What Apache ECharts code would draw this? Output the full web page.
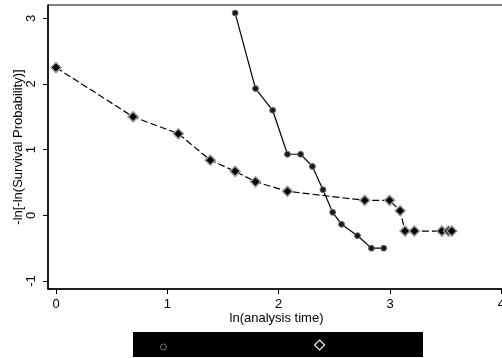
<!DOCTYPE html>
<html>
<head>
<meta charset="utf-8">
<script src="https://cdn.jsdelivr.net/npm/echarts@6/dist/echarts.min.js"></script>
<style>html,body{margin:0;padding:0;background:#fff}#c{width:502px;height:358px}</style>
</head>
<body>
<div id="c"></div>
<script>
// ln(analysis time) and -ln[-ln(S)] for group 1 (solid, circles)
var x1 = [1.609, 1.792, 1.946, 2.079, 2.197, 2.303, 2.398, 2.485, 2.565, 2.708, 2.833, 2.944];
var y1 = [3.08, 1.93, 1.60, 0.93, 0.93, 0.745, 0.39, 0.045, -0.137, -0.31, -0.50, -0.50];
// group 2 (dashed, diamonds)
var x2 = [0, 0.693, 1.099, 1.386, 1.609, 1.792, 2.079, 2.773, 2.996, 3.091, 3.135, 3.219, 3.466, 3.526, 3.555];
var y2 = [2.25, 1.50, 1.243, 0.84, 0.67, 0.51, 0.365, 0.228, 0.228, 0.07, -0.24, -0.24, -0.24, -0.24, -0.24];
var xTicks = [0, 1, 2, 3, 4];
var yTicks = [-1, 0, 1, 2, 3];
var seriesNames = ['group = 0', 'group = 1'];

function pairs(xs, ys) { return xs.map(function (v, i) { return [v, ys[i]]; }); }

var FONT = "'Liberation Sans', Arial, sans-serif";
var chart = echarts.init(document.getElementById('c'), null, {renderer: 'canvas'});
chart.setOption({
  animation: false,
  backgroundColor: '#fff',
  textStyle: {fontFamily: FONT},
  grid: {left: 48, top: 5, width: 457, height: 284, show: true, borderColor: '#000', borderWidth: 1,
         containLabel: false, outerBoundsMode: 'none'},
  xAxis: {
    type: 'value', min: -0.072, max: 4.033,
    name: 'ln(analysis time)', nameLocation: 'middle', nameGap: 23, nameMoveOverlap: false,
    nameTextStyle: {fontFamily: FONT, fontSize: 13, color: '#000'},
    axisLine: {show: true, onZero: false, lineStyle: {color: '#000', width: 1.5}},
    axisTick: {show: true, length: 5, lineStyle: {color: '#000'}, customValues: xTicks},
    axisLabel: {fontFamily: FONT, fontSize: 13, color: '#000', margin: 9, customValues: xTicks, hideOverlap: false},
    splitLine: {show: false}
  },
  yAxis: {
    type: 'value', min: -1.122, max: 3.203,
    name: '-ln[-ln(Survival Probability)]', nameLocation: 'middle', nameGap: 23, nameMoveOverlap: false,
    nameTextStyle: {fontFamily: FONT, fontSize: 13, color: '#000'},
    axisLine: {show: true, onZero: false, lineStyle: {color: '#000', width: 1.5}},
    axisTick: {show: true, length: 5, lineStyle: {color: '#000'}, customValues: yTicks},
    axisLabel: {fontFamily: FONT, fontSize: 13, color: '#000', margin: 10, rotate: 90, customValues: yTicks},
    splitLine: {show: false}
  },
  graphic: [{type: 'rect', left: 133, top: 332, shape: {width: 290, height: 25}, style: {fill: '#000'}, z: 0}],
  legend: [
    {data: [{name: seriesNames[0], icon: 'circle'}], left: 160, top: 341, padding: 0, itemWidth: 6, itemHeight: 6,
     itemStyle: {color: '#000', borderColor: '#777', borderWidth: 1}, textStyle: {color: '#000', fontSize: 12, fontFamily: FONT}},
    {data: [{name: seriesNames[1], icon: 'diamond'}], left: 314, top: 339, padding: 0, itemWidth: 10, itemHeight: 10,
     itemStyle: {color: '#000', borderColor: '#eee', borderWidth: 1.2}, textStyle: {color: '#000', fontSize: 12, fontFamily: FONT}}
  ],
  series: [
    {name: seriesNames[0], type: 'line', data: pairs(x1, y1), symbol: 'circle', symbolSize: 6,
     lineStyle: {color: '#000', width: 1.2}, itemStyle: {color: '#1a1a1a', borderColor: '#777', borderWidth: 1}, z: 3},
    {name: seriesNames[1], type: 'line', data: pairs(x2, y2), symbol: 'diamond', symbolSize: 10,
     lineStyle: {color: '#000', width: 1.2, type: [7, 3]}, itemStyle: {color: '#000', borderColor: '#999', borderWidth: 1.5}, z: 2}
  ]
});
</script>
</body>
</html>
